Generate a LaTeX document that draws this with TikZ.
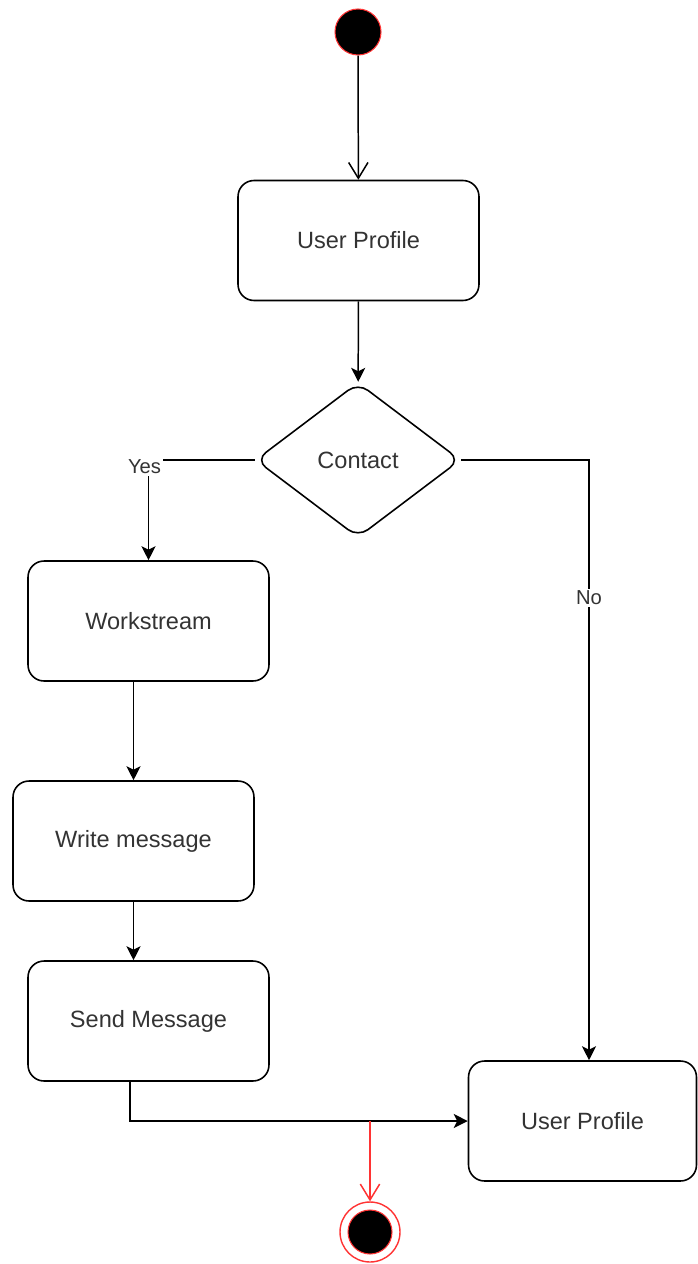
\documentclass[tikz,border=0pt]{standalone}
\usepackage{fontspec}
\setmainfont{Liberation Sans}
\usetikzlibrary{arrows.meta}
\usetikzlibrary{shapes.geometric}
\usetikzlibrary{positioning}
\definecolor{txtgrey}{HTML}{333333}
\definecolor{umlred}{HTML}{FF3333}
\tikzset{act/.style = {draw, rounded corners = 0.32cm, line width = 0.9pt,
                       minimum width = 4.82cm, minimum height = 2.4cm,
                       text = txtgrey, font = \fontsize{13.4}{16}\selectfont}}
\tikzset{choice/.style = {draw, diamond, rounded corners = 0.25cm, line width = 0.9pt,
                          aspect = 1.333, inner sep = 0,
                          minimum width = 4.1cm, minimum height = 3.1cm,
                          text = txtgrey, font = \fontsize{13.4}{16}\selectfont}}
\tikzset{initial/.style = {circle, fill = black, draw = umlred, line width = 0.6pt,
                           inner sep = 0, minimum size = 0.92cm}}
\tikzset{final/.style = {circle, fill = white, draw = umlred, line width = 0.8pt,
                         inner sep = 0, minimum size = 1.2cm}}
\tikzset{flow/.style = {line width = 0.85pt,
                        -{Stealth[length = 8pt, width = 8pt, inset = 2pt]}}}
\tikzset{barb/.style = {line width = 0.85pt,
                        -{Straight Barb[length = 9pt, width = 11pt]}}}
\tikzset{guard/.style = {fill = white, inner sep = 1pt, text = txtgrey,
                         font = \fontsize{11.5}{13}\selectfont}}

\begin{document}
\begin{tikzpicture}[x = 0.02cm, y = -0.02cm]
      \useasboundingbox (0, 0) rectangle (697, 1264);

      \node (start) at (358, 32) [initial] {};
      \node (prof) at (358.5, 240.5) [act] {User Profile};
      \node (contact) at (358, 460) [choice] {Contact};

      \node (work) at (148.5, 621) [act] {Workstream};
      \node (write) at (133.5, 841) [act] {Write message};
      \node (send) at (148.5, 1021) [act] {Send Message};
      \node (prof2) at (582.5, 1121) [act, minimum width = 4.56cm] {User Profile};

      \node (final) at (370, 1232) [final] {};
      \node (finalin) at (370, 1232) [initial, minimum size = 0.88cm] {};

      \draw [barb] (start) -- (prof);
      \draw [flow] (prof) -- (contact);
      \draw [flow] (contact.west) -| (work.north)
            node [pos = 0.5, guard, xshift = -0.08cm, yshift = -0.14cm] {Yes};
      \draw [flow] (contact.east) -| ([xshift = 0.13cm]prof2.north)
            node [pos = 0.615, guard] {No};
      \draw [flow] (write.north |- work.south) -- (write.north);
      \draw [flow] (write.south) -- (write.south |- send.north);
      \draw [flow] ([xshift = -0.37cm]send.south) |- (prof2.west);
      \draw [barb, umlred] (final.north |- prof2.west) -- (final);
    \end{tikzpicture}
\end{document}
